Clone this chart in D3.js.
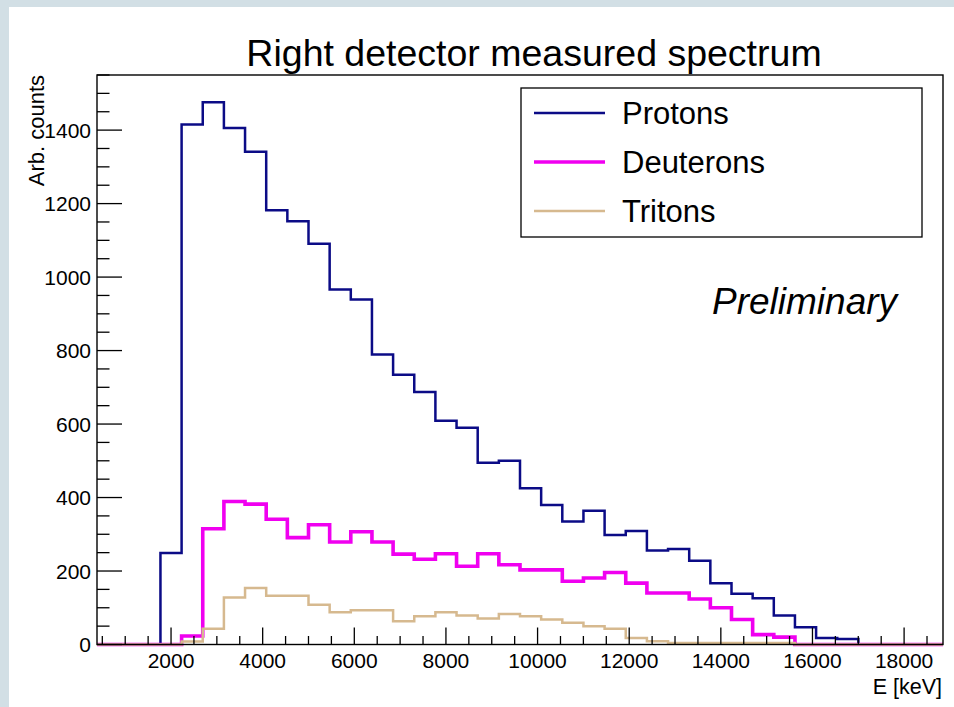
<!DOCTYPE html>
<html>
<head>
<meta charset="utf-8">
<script src="https://cdn.jsdelivr.net/npm/d3@7"></script>
<style>
  html, body { margin: 0; padding: 0; background: #ffffff; }
  svg { display: block; }
  text { font-family: "Liberation Sans", Arial, Helvetica, sans-serif; fill: #000; }
</style>
</head>
<body>
<svg id="chart" width="954" height="707"></svg>
<script>
// ---------------- data ----------------
const title = "Right detector measured spectrum";
const xTitle = "E [keV]";
const yTitle = "Arb. counts";
const xRange = [384, 18849];        // histogram axis range (keV)
const nBins = 40;
const xTickValues = [2000, 4000, 6000, 8000, 10000, 12000, 14000, 16000, 18000];
const yTickValues = [0, 200, 400, 600, 800, 1000, 1200, 1400];
const yMaxValue = 1550;

const seriesNames = ["Protons", "Deuterons", "Tritons"];

const protons = [0, 0, 0, 249, 1415, 1476, 1406, 1341, 1182, 1152,
                 1091, 966, 939, 789, 734, 687, 609, 590, 495, 500,
                 425, 380, 335, 364, 298, 309, 256, 260, 228, 167,
                 138, 126, 79, 47, 18, 15, 0, 0, 0, 0];
const deuterons = [0, 0, 0, 0, 23, 315, 389, 382, 341, 291,
                   326, 279, 307, 279, 246, 232, 247, 213, 247, 217,
                   203, 203, 172, 181, 196, 167, 140, 140, 124, 100,
                   68, 27, 20, 0, 0, 0, 0, 0, 0, 0];
const tritons = [0, 0, 0, 0, 8, 43, 128, 154, 133, 133,
                 108, 88, 93, 93, 63, 77, 88, 79, 71, 83,
                 77, 68, 59, 50, 43, 18, 9, 4, 4, 4,
                 4, 4, 4, 0, 0, 0, 0, 0, 0, 0];

// ---------------- layout ----------------
const W = 954, H = 707;
const frame = { left: 97, right: 943, top: 75, bottom: 644.5 };
const colors = { Protons: "#0b0b86", Deuterons: "#f000f0", Tritons: "#d6b98f" };
const widths = { Protons: 2.5, Deuterons: 3.6, Tritons: 2.5 };

const svg = d3.select("#chart");

// background strips
svg.append("rect").attr("x", 0).attr("y", 0).attr("width", W).attr("height", H).attr("fill", "#ffffff");
svg.append("rect").attr("x", 0).attr("y", 0).attr("width", W).attr("height", 7).attr("fill", "#d2dfe5");
svg.append("rect").attr("x", 0).attr("y", 0).attr("width", 9).attr("height", H).attr("fill", "#d2dfe5");

const x = d3.scaleLinear().domain(xRange).range([frame.left, frame.right]);
const y = d3.scaleLinear().domain([0, yMaxValue]).range([frame.bottom, frame.top]);

const binW = (xRange[1] - xRange[0]) / nBins;
const edges = d3.range(nBins + 1).map(i => xRange[0] + i * binW);

// ---------------- histograms ----------------
const line = d3.line().x(d => x(d[0])).y(d => y(d[1])).curve(d3.curveStepAfter);
function pts(vals) {
  const p = vals.map((v, i) => [edges[i], v]);
  p.push([edges[nBins], vals[nBins - 1]]);
  return p;
}
const seriesData = { Protons: protons, Deuterons: deuterons, Tritons: tritons };
seriesNames.forEach(name => {
  svg.append("path")
    .attr("d", line(pts(seriesData[name])))
    .attr("fill", "none")
    .attr("stroke", colors[name])
    .attr("stroke-width", widths[name])
    .attr("stroke-linejoin", "miter")
    .attr("stroke-linecap", "butt");
});

// ---------------- axes ----------------
const axisG = svg.append("g");
// frame
axisG.append("rect")
  .attr("x", frame.left).attr("y", frame.top)
  .attr("width", frame.right - frame.left).attr("height", frame.bottom - frame.top)
  .attr("fill", "none").attr("stroke", "#000").attr("stroke-width", 1.4);

// x axis ticks (major + minor)
const xMajorLen = 17, xMinorLen = 8.5;
const xMinor = d3.range(500, xRange[1], 500).filter(v => v > xRange[0] && v % 2000 !== 0);
xMinor.forEach(v => {
  axisG.append("line").attr("x1", x(v)).attr("x2", x(v))
    .attr("y1", frame.bottom).attr("y2", frame.bottom - xMinorLen)
    .attr("stroke", "#000").attr("stroke-width", 1.3);
});
xTickValues.forEach(v => {
  axisG.append("line").attr("x1", x(v)).attr("x2", x(v))
    .attr("y1", frame.bottom).attr("y2", frame.bottom - xMajorLen)
    .attr("stroke", "#000").attr("stroke-width", 1.3);
  axisG.append("text").attr("x", x(v)).attr("y", 668)
    .attr("text-anchor", "middle").attr("font-size", 21).text(v);
});

// y axis ticks
const yMajorLen = 25, yMinorLen = 12.5;
const yMinor = d3.range(50, yMaxValue + 1, 50).filter(v => v % 200 !== 0);
yMinor.forEach(v => {
  axisG.append("line").attr("x1", frame.left).attr("x2", frame.left + yMinorLen)
    .attr("y1", y(v)).attr("y2", y(v))
    .attr("stroke", "#000").attr("stroke-width", 1.3);
});
yTickValues.forEach(v => {
  axisG.append("line").attr("x1", frame.left).attr("x2", frame.left + yMajorLen)
    .attr("y1", y(v)).attr("y2", y(v))
    .attr("stroke", "#000").attr("stroke-width", 1.3);
  axisG.append("text").attr("x", 91).attr("y", y(v) + 7.5)
    .attr("text-anchor", "end").attr("font-size", 21).text(v);
});

// axis titles
svg.append("text").attr("x", 942).attr("y", 694)
  .attr("text-anchor", "end").attr("font-size", 21.5).text(xTitle);
svg.append("text").attr("transform", "translate(44,75) rotate(-90)")
  .attr("text-anchor", "end").attr("font-size", 22).text(yTitle);

// title
svg.append("text").attr("x", 534).attr("y", 66)
  .attr("text-anchor", "middle").attr("font-size", 37.5).text(title);

// Preliminary
svg.append("text").attr("x", 712).attr("y", 314)
  .attr("font-size", 37).attr("font-style", "italic").text("Preliminary");

// ---------------- legend ----------------
const leg = { x0: 521, y0: 88, x1: 922, y1: 237 };
svg.append("rect").attr("x", leg.x0).attr("y", leg.y0)
  .attr("width", leg.x1 - leg.x0).attr("height", leg.y1 - leg.y0)
  .attr("fill", "#fff").attr("stroke", "#000").attr("stroke-width", 1.3);
const legRowY = [113, 162, 211];
seriesNames.forEach((name, i) => {
  svg.append("line").attr("x1", 534).attr("x2", 605)
    .attr("y1", legRowY[i]).attr("y2", legRowY[i])
    .attr("stroke", colors[name]).attr("stroke-width", widths[name]);
  svg.append("text").attr("x", 622).attr("y", legRowY[i] + 11)
    .attr("font-size", 31).text(name);
});
</script>
</body>
</html>
